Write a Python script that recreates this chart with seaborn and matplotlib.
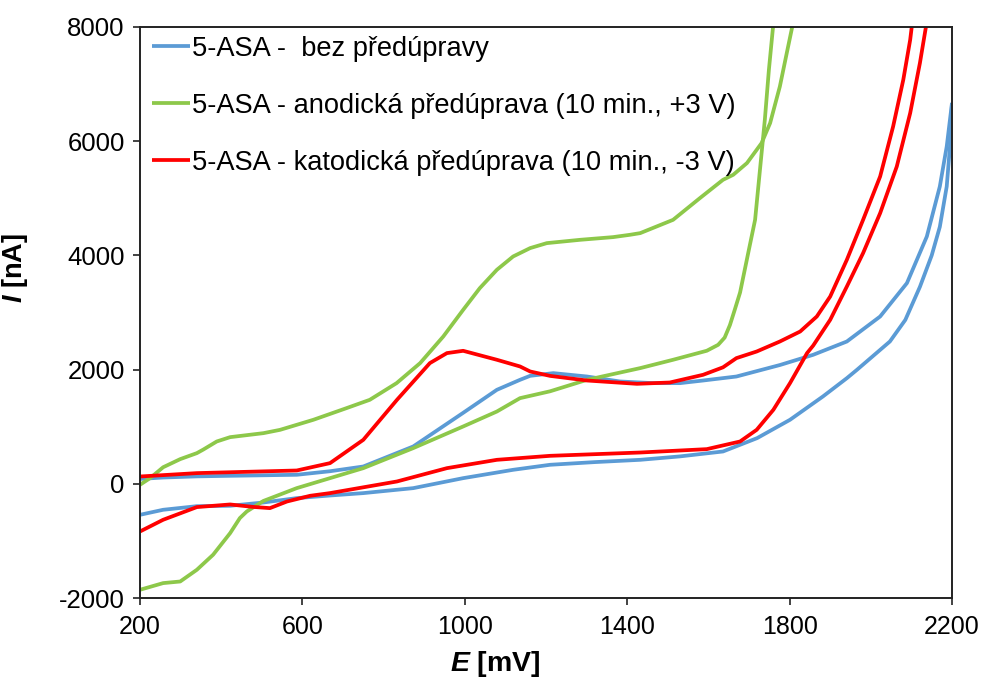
import numpy as np
import pandas as pd
import matplotlib
matplotlib.use("Agg")
import matplotlib.pyplot as plt
import seaborn as sns

# ---------------- data ----------------
labels = ["5-ASA -  bez předúpravy",
          "5-ASA - anodická předúprava (10 min., +3 V)",
          "5-ASA - katodická předúprava (10 min., -3 V)"]
colors = ["#5B9BD5", "#8DC84A", "#FF0000"]

# blue: no pretreatment
blue_fwd_E = [200, 257, 340, 422, 504, 586, 668, 750, 873, 996, 1119, 1210, 1320, 1432, 1530,
              1636, 1720, 1801, 1882, 1941, 1966, 2047, 2085, 2121, 2150, 2170, 2187, 2195, 2200]
blue_fwd_I = [-543, -455, -392, -385, -327, -251, -205, -163, -76, 99, 245, 333, 380, 420, 480,
              566, 800, 1121, 1529, 1850, 1997, 2492, 2870, 3450, 4000, 4500, 5207, 5907, 6670]
blue_rev_E = [2200, 2187, 2170, 2138, 2089, 2023, 1941, 1858, 1776, 1669, 1587, 1530, 1464, 1382,
              1301, 1218, 1161, 1136, 1079, 996, 873, 750, 668, 586, 420, 340, 257, 200]
blue_rev_I = [6670, 5907, 5207, 4331, 3515, 2930, 2492, 2259, 2080, 1879, 1809, 1763, 1763, 1792,
              1879, 1938, 1891, 1821, 1646, 1243, 654, 303, 220, 158, 140, 130, 110, 85]

# green: anodic pretreatment
green_fwd_E = [200, 257, 299, 340, 380, 422, 446, 463, 504, 586, 668, 750, 873, 996, 1079, 1136,
               1210, 1301, 1432, 1513, 1596, 1624, 1640, 1653, 1665, 1678, 1698, 1715, 1727, 1739,
               1749, 1759, 1763]
green_fwd_I = [-1856, -1739, -1711, -1506, -1243, -864, -600, -485, -300, -76, 99, 274, 625, 1004,
               1266, 1500, 1620, 1821, 2026, 2172, 2330, 2434, 2560, 2780, 3050, 3350, 4040, 4623,
               5499, 6375, 7250, 7986, 8300]
green_rev_E = [1810, 1806, 1793, 1776, 1752, 1731, 1695, 1661, 1636, 1579, 1513, 1432, 1407, 1365,
               1284, 1202, 1161, 1119, 1079, 1037, 996, 947, 890, 832, 766, 709, 627, 545, 504, 422,
               389, 356, 340, 299, 257, 225, 200]
green_rev_I = [8300, 7986, 7543, 6958, 6317, 5967, 5617, 5411, 5324, 5003, 4623, 4390, 4361, 4320,
               4273, 4215, 4128, 3981, 3748, 3427, 3047, 2580, 2114, 1763, 1471, 1326, 1121, 945,
               887, 817, 741, 600, 537, 432, 290, 100, -17]

# red: cathodic pretreatment
red_fwd_E = [200, 257, 340, 422, 479, 520, 562, 619, 668, 833, 956, 1079, 1210, 1432, 1596, 1678,
             1719, 1760, 1801, 1843, 1858, 1900, 1941, 1981, 2023, 2064, 2097, 2121, 2136, 2142]
red_fwd_I = [-835, -630, -408, -362, -405, -426, -310, -210, -163, 41, 274, 420, 490, 548, 607, 741,
             946, 1296, 1763, 2289, 2420, 2872, 3455, 4040, 4740, 5557, 6492, 7370, 8010, 8300]
red_rev_E = [2106, 2101, 2097, 2080, 2055, 2023, 1981, 1941, 1900, 1867, 1826, 1776, 1719, 1669,
             1636, 1587, 1505, 1424, 1301, 1210, 1161, 1136, 1079, 996, 956, 914, 833, 750, 668,
             586, 340, 200]
red_rev_I = [8300, 8010, 7776, 7075, 6258, 5382, 4623, 3923, 3280, 2930, 2667, 2492, 2317, 2201,
             2040, 1909, 1774, 1751, 1809, 1890, 1967, 2055, 2172, 2329, 2289, 2114, 1471, 770, 362,
             233, 187, 128]

x_ticks = [200, 600, 1000, 1400, 1800, 2200]
y_ticks = [-2000, 0, 2000, 4000, 6000, 8000]

# ---------------- build long table ----------------
frames = []
for lab, branches in zip(labels, [
        [("fwd", blue_fwd_E, blue_fwd_I), ("rev", blue_rev_E, blue_rev_I)],
        [("fwd", green_fwd_E, green_fwd_I), ("rev", green_rev_E, green_rev_I)],
        [("fwd", red_fwd_E, red_fwd_I), ("rev", red_rev_E, red_rev_I)]]):
    for bname, e, i in branches:
        frames.append(pd.DataFrame({"E": e, "I": i, "series": lab, "branch": lab + bname}))
df = pd.concat(frames, ignore_index=True)

# ---------------- plot ----------------
sns.set_theme(style="ticks")
plt.rcParams["font.family"] = ["Liberation Sans", "DejaVu Sans"]
plt.rcParams["mathtext.fontset"] = "custom"
plt.rcParams["mathtext.it"] = "Liberation Sans:italic:bold"
plt.rcParams["mathtext.rm"] = "Liberation Sans:bold"
plt.rcParams["text.color"] = "black"
plt.rcParams["axes.labelcolor"] = "black"

fig = plt.figure(figsize=(9.84, 6.82), dpi=100)
ax = fig.add_axes([140 / 984, 1 - 598 / 682, 812 / 984, 571 / 682])

sns.lineplot(data=df, x="E", y="I", hue="series", hue_order=labels, palette=colors,
             units="branch", estimator=None, sort=False, linewidth=2.7, ax=ax)
for ln in ax.lines:
    ln.set_solid_joinstyle("round")
    ln.set_solid_capstyle("butt")

ax.set_xlim(200, 2200)
ax.set_ylim(-2000, 8000)
ax.set_xticks(x_ticks)
ax.set_yticks(y_ticks)
ax.set_yticklabels([str(v) for v in y_ticks])
ax.tick_params(axis="both", direction="out", length=5, width=1.2, colors="#222222",
               labelcolor="black")
ax.tick_params(axis="y", labelsize=18.5, pad=6)
ax.tick_params(axis="x", labelsize=18, pad=7)
for s in ax.spines.values():
    s.set_visible(True)
    s.set_linewidth(1.4)
    s.set_color("#222222")

ax.set_xlabel(r"$E$ [mV]", fontsize=20.5, fontweight="bold", color="black")
ax.set_ylabel(r"$I$ [nA]", fontsize=19.5, fontweight="bold", color="black")
ax.xaxis.set_label_coords((495 - 140) / 812, -0.09)
ax.yaxis.set_label_coords(-0.135, (598 - 268) / 571)

handles, labs = ax.get_legend_handles_labels()
for h in handles:
    h.set_linewidth(2.7)
leg = ax.legend(handles, labs, loc="upper left", frameon=False, fontsize=19.6,
                handlelength=1.4, handletextpad=0.08, labelspacing=1.13,
                borderpad=0.0, borderaxespad=0.0,
                bbox_to_anchor=(12 / 812, 1 - 9 / 571))
for t in leg.get_texts():
    t.set_color("black")

fig.savefig("out.png", dpi=100)
